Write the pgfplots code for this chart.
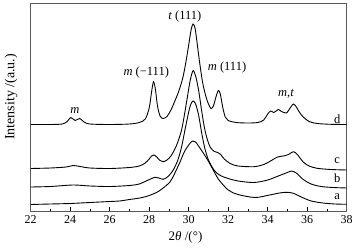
\documentclass[border=0pt]{standalone}
\usepackage{pgfplots}
\pgfplotsset{compat=1.18}
\usepackage{fontspec}
\setmainfont{Liberation Serif}
\begin{document}
\begin{tikzpicture}[x=1pt,y=1pt, curve/.style={black, line width=0.9pt, smooth, tension=0.5, mark=none}]
\useasboundingbox (-30.7,-38) rectangle (326.3,211);
\begin{axis}[at={(0,0)}, anchor=south west, scale only axis,
  width=316pt, height=208pt,
  xmin=22, xmax=38, ymin=3, ymax=211, y dir=reverse,
  xtick={22,24,...,38}, minor x tick num=1, ytick=\empty,
  xtick pos=bottom, tick align=inside,
  major tick length=4pt, minor tick length=2.5pt,
  tick label style={font=\fontsize{12}{14}\selectfont},
  xticklabel style={yshift=-1pt},
  /pgf/number format/assume math mode=true,
  axis line style={line width=0.6pt, black!65},
  every tick/.style={black, line width=0.6pt},
  xlabel={2\textit{θ} /(°)},
  ylabel={Intensity /(a.u.)},
  xlabel style={font=\fontsize{13}{15}\selectfont, at={(axis description cs:0.49,-0.125)}, anchor=center},
  ylabel style={font=\fontsize{14}{16}\selectfont, at={(axis description cs:-0.062,0.548)}, anchor=center},
  clip=false,
]
% d
\addplot[curve] coordinates {
(22,124.5)(23,124.5)(23.6,124)(23.85,121.5)(24.03,117.5)(24.25,120.5)(24.48,118.5)(24.7,122)(25,124)(26,124.5)(27,124)(27.5,122.5)(27.8,119)(28.0,108)(28.12,92)(28.22,81.7)(28.32,90)(28.42,106)(28.55,116)(28.7,118.5)(28.9,116.5)(29.1,110)(29.3,101)(29.5,91)(29.7,78)(29.85,63)(30.0,45)(30.12,30)(30.22,24)(30.32,28)(30.42,42)(30.55,62)(30.7,82)(30.85,95)(31.0,104)(31.13,108.5)(31.25,106)(31.38,97)(31.5,90.5)(31.6,94)(31.72,107)(31.85,117)(32.0,120.5)(32.4,122.5)(33.0,123)(33.5,122.5)(33.8,120)(34.0,114)(34.15,111)(34.3,112.5)(34.4,111.5)(34.54,109.5)(34.7,111.5)(34.95,113)(35.1,109)(35.3,104)(35.45,107)(35.6,112)(35.8,117)(36.1,121.5)(36.5,123.5)(37.2,124.3)(38,124.5)
};
% c
\addplot[curve] coordinates {
(22,168.5)(23,168)(23.8,167)(24.15,165.5)(24.5,166.5)(25,168)(26,168.5)(27,167.5)(27.5,166)(27.8,163)(28.0,159)(28.12,156)(28.24,155)(28.38,157)(28.55,160.5)(28.71,161.7)(28.9,160)(29.1,156)(29.3,149)(29.45,142)(29.64,130)(29.8,113)(29.95,95)(30.08,80)(30.22,70.7)(30.35,76)(30.5,90)(30.65,110)(30.8,128)(30.95,140)(31.1,147.5)(31.3,151.5)(31.47,152.5)(31.62,154.5)(31.8,159)(32.1,163.5)(32.5,166)(33.3,166.7)(33.8,164.5)(34.1,161.5)(34.5,157)(34.8,156)(35.05,154.5)(35.3,151.7)(35.5,154.5)(35.8,162)(36.1,166)(36.5,168.3)(37.2,169.5)(38,170)
};
% b
\addplot[curve] coordinates {
(22,187)(23,186.5)(24.15,185)(25,186)(26,186.5)(27,185.5)(27.5,184)(27.9,180.5)(28.29,177.3)(28.5,178)(28.71,179.3)(28.95,176.5)(29.22,170)(29.45,160)(29.64,147)(29.81,130)(30.0,112)(30.1,104.5)(30.22,101)(30.35,104)(30.5,115)(30.65,132)(30.8,147)(31.0,160)(31.3,170.5)(31.6,175.5)(32.0,178.5)(32.5,181)(33.3,182.5)(34.0,180)(34.6,175.5)(35.0,172.5)(35.2,171)(35.45,173)(35.8,179.5)(36.2,184)(36.7,186.5)(37.3,187.5)(38,188)
};
% a
\addplot[curve] coordinates {
(22,204.5)(23,204)(24,203.5)(25,202.5)(26,201.5)(26.5,201)(27,199.5)(27.53,198)(28.0,195.5)(28.5,191)(29.05,182)(29.3,173)(29.56,162)(29.8,151)(30.06,143.5)(30.2,141)(30.35,142)(30.6,149)(30.9,158)(31.16,167)(31.5,179)(32.0,190)(32.5,194.5)(33.36,197.5)(34.1,195)(34.6,193)(34.96,192.3)(35.3,193.3)(35.7,197)(36.2,201)(36.8,203)(37.4,204)(38,204.3)
};
\begin{scope}[font=\fontsize{12.5}{14}\selectfont]
\node at (axis cs:29.8,16) {\textit{t} (111)};
\node at (axis cs:27.85,72) {\textit{m} (−111)};
\node at (axis cs:31.94,67) {\textit{m} (111)};
\node at (axis cs:24.24,111) {\textit{m}};
\node at (axis cs:34.93,94) {\textit{m},\textit{t}};
\node[anchor=base] at (axis cs:37.52,123.5) {d};
\node[anchor=base] at (axis cs:37.52,163.5) {c};
\node[anchor=base] at (axis cs:37.52,182.5) {b};
\node[anchor=base] at (axis cs:37.52,199.5) {a};
\end{scope}
\end{axis}
\end{tikzpicture}
\end{document}
